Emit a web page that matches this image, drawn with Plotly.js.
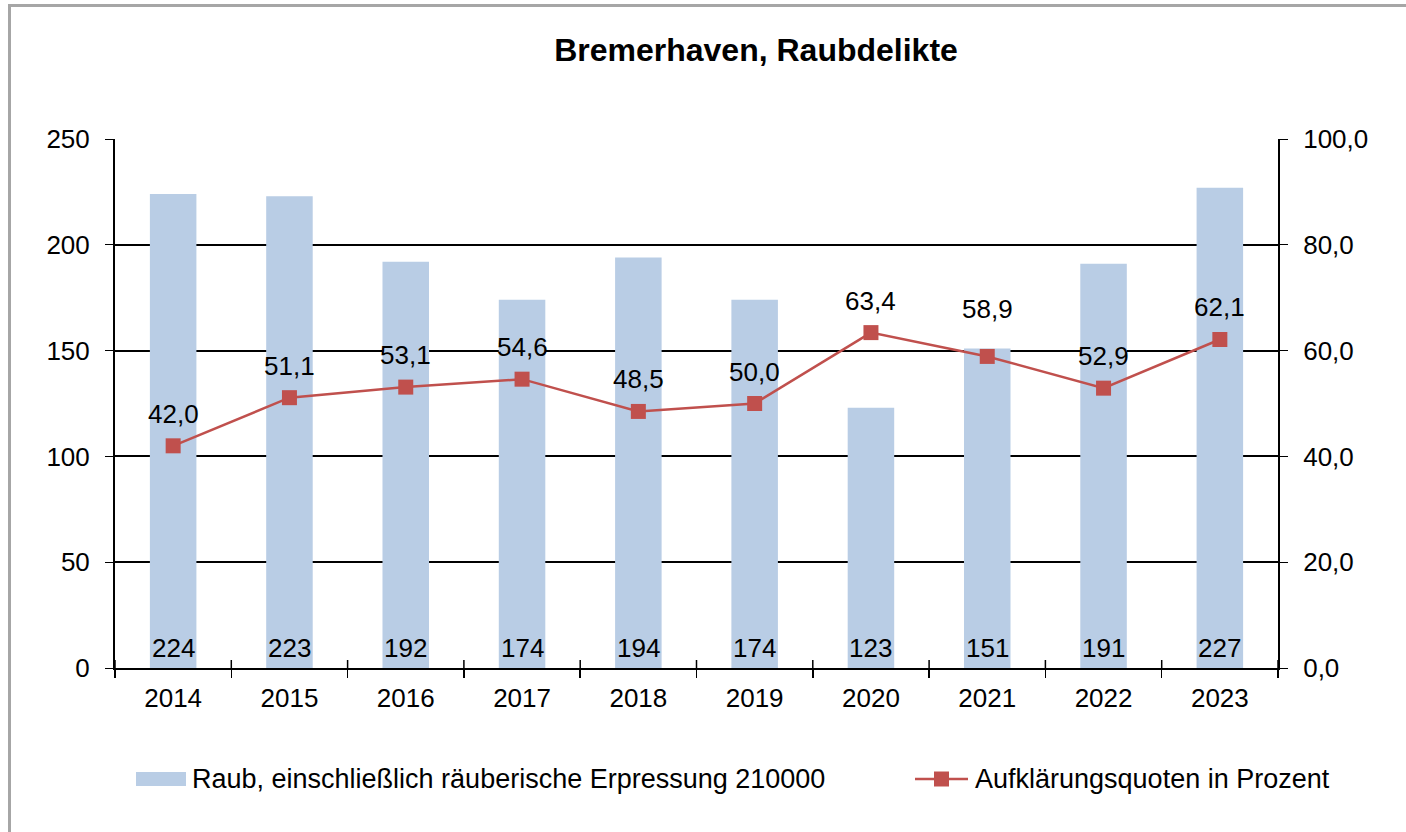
<!DOCTYPE html>
<html><head><meta charset="utf-8">
<script src="https://cdn.plot.ly/plotly-3.0.1.min.js"></script>
<style>
html,body{margin:0;padding:0;background:#fff;overflow:hidden}
#frame{position:absolute;left:8px;top:4px;width:1420px;height:860px;border:3px solid #A6A6A6;box-sizing:border-box}
#chart{position:absolute;left:0;top:0;width:1406px;height:832px}
</style></head><body>
<div id="frame"></div>
<div id="chart"></div>
<script>
const years = ['2014','2015','2016','2017','2018','2019','2020','2021','2022','2023'];
const raubFaelle = [224,223,192,174,194,174,123,151,191,227];
const aufklaerung = [42.0,51.1,53.1,54.6,48.5,50.0,63.4,58.9,52.9,62.1];
const seriesNames = ['Raub, einschließlich räuberische Erpressung 210000','Aufklärungsquoten in Prozent'];

const font = 'Liberation Sans, Arial, sans-serif';
const BAR = '#B9CDE5', LINE = '#C0504D';
const fmt = v => v.toFixed(1).replace('.', ',');
// label placement style: default pixel offset above the marker, with one manual nudge as in the original
const LABEL_SHIFT = 32;
const labelNudge = {'2021': 15};

const traces = [
  {type:'bar', x:years, y:raubFaelle, name:seriesNames[0], marker:{color:BAR}, hoverinfo:'skip'},
  {type:'scatter', mode:'lines+markers', x:years, y:aufklaerung, yaxis:'y2', name:seriesNames[1],
   line:{color:LINE, width:2.5}, marker:{symbol:'square', size:15, color:LINE}, cliponaxis:false}
];

const annotations = [];
years.forEach((yr,i)=>{
  annotations.push({x:i, y:0, xref:'x', yref:'y', text:String(raubFaelle[i]), showarrow:false,
    yanchor:'middle', yshift:20, font:{size:26, color:'#000', family:font}});
  annotations.push({x:i, y:aufklaerung[i], xref:'x', yref:'y2', text:fmt(aufklaerung[i]), showarrow:false,
    yanchor:'middle', yshift:LABEL_SHIFT + (labelNudge[yr]||0), font:{size:26, color:'#000', family:font}});
});
const px = v => (v-115)/1163, py = v => (668-v)/529;
// custom legend
annotations.push({xref:'paper', yref:'paper', x:px(190), y:py(779), xanchor:'left', yanchor:'middle',
  text:seriesNames[0], showarrow:false, font:{size:27, color:'#000', family:font}});
annotations.push({xref:'paper', yref:'paper', x:px(973), y:py(779), xanchor:'left', yanchor:'middle',
  text:seriesNames[1], showarrow:false, font:{size:27, color:'#000', family:font}});

const shapes = [
  {type:'rect', xref:'paper', yref:'paper', x0:px(136), x1:px(186), y0:py(772), y1:py(786), fillcolor:BAR, line:{width:0}},
  {type:'line', xref:'paper', yref:'paper', x0:px(915), x1:px(968), y0:py(779), y1:py(779), line:{color:LINE, width:2.5}},
  {type:'rect', xref:'paper', yref:'paper', x0:px(934), x1:px(949), y0:py(771.5), y1:py(786.5), fillcolor:LINE, line:{width:0}}
];
// inner half of the crossing x tick marks at category boundaries
for (let i=0;i<=years.length;i++){
  shapes.push({type:'line', xref:'x', yref:'paper', ysizemode:'pixel', yanchor:0, x0:i-0.5, x1:i-0.5, y0:0, y1:8,
    line:{color:'#000', width:1.5}});
}

const layout = {
  width:1406, height:832,
  margin:{l:115, r:128, t:139, b:164, pad:0},
  paper_bgcolor:'rgba(0,0,0,0)', plot_bgcolor:'rgba(0,0,0,0)',
  separators:',.',
  font:{family:font, size:26, color:'#000'},
  title:{text:'<b>Bremerhaven, Raubdelikte</b>', x:px(756), xref:'paper', xanchor:'center', y:0.94, yanchor:'middle', font:{size:32, family:font}},
  bargap:0.6,
  showlegend:false,
  annotations, shapes,
  xaxis:{type:'category', range:[-0.5,9.5], showline:true, linecolor:'#000', linewidth:2, ticks:'outside', ticklen:8, tickwidth:1.5, tickcolor:'#000',
         tickson:'boundaries', showgrid:false, tickfont:{size:26}, ticklabelstandoff:6},
  yaxis:{range:[0,250], dtick:50, showline:true, linecolor:'#000', linewidth:2, ticks:'outside', ticklen:8, tickcolor:'#000',
         gridcolor:'#000', gridwidth:2, zeroline:false, tickfont:{size:26}, ticklabelstandoff:10},
  yaxis2:{range:[0,100], dtick:20, overlaying:'y', side:'right', tickformat:'.1f', showline:true, linecolor:'#000', linewidth:2,
          ticks:'outside', ticklen:8, tickcolor:'#000', showgrid:false, zeroline:false, tickfont:{size:26}, ticklabelstandoff:10}
};
Plotly.newPlot('chart', traces, layout, {displayModeBar:false, staticPlot:true});
</script>
</body></html>
